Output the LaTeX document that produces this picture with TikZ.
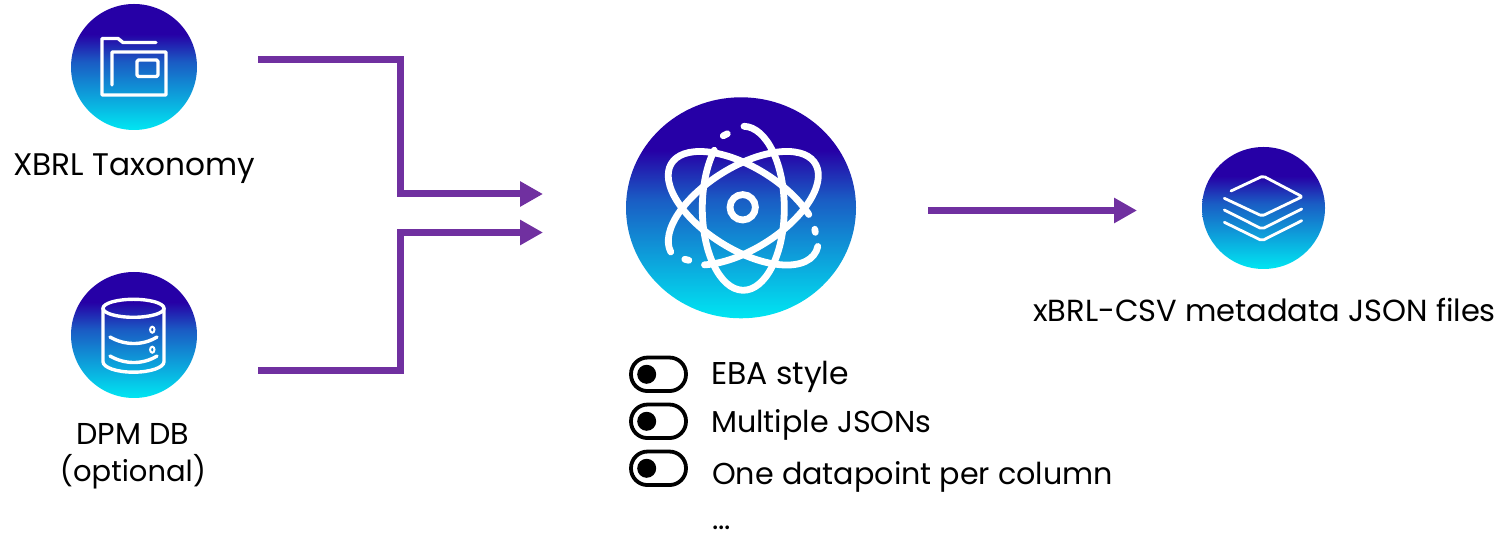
\documentclass[tikz,border=0pt]{standalone}
\usepackage{fontspec}
\setmainfont{Poppins}
\usetikzlibrary{arrows.meta}
\usetikzlibrary{shapes.geometric}
\definecolor{flowpurple}{HTML}{7030A0}
\definecolor{icontop}{HTML}{2600A6}
\definecolor{iconmid}{HTML}{1A5CC4}
\definecolor{iconlow}{HTML}{00E6F2}
\pgfdeclareverticalshading{iconfade}{100bp}{color(0bp)=(iconlow); color(25bp)=(iconlow); color(52bp)=(iconmid); color(63bp)=(icontop); color(100bp)=(icontop)}
\tikzset{
    flowarrow/.style={draw=flowpurple, line width=7pt, -{Triangle[length=23pt,width=24pt]}},
    iconball/.style={ellipse, shading=iconfade, inner sep=0pt},
    iconline/.style={draw=white, line width=3.4pt, line cap=round, line join=round},
    atomline/.style={draw=white, line width=6.8pt, line cap=round},
    label/.style={font=\fontsize{30.2}{36}\selectfont, inner sep=0pt, text=black},
    togglebox/.style={draw=black, line width=3.8pt, rounded corners=16.5pt, minimum width=55pt, minimum height=33.5pt, inner sep=0pt},
    toggleknob/.style={circle, fill=black, minimum size=19pt, inner sep=0pt}
}
\begin{document}
\begin{tikzpicture}[x=1pt,y=1pt]
    \useasboundingbox (0,0) rectangle (1505,535);

    % icons
    \node[iconball, minimum width=126pt, minimum height=126pt] (taxonomy) at (134,468) {};
    \node[iconball, minimum width=126pt, minimum height=126pt] (dpm) at (134,200) {};
    \node[iconball, minimum width=230pt, minimum height=221pt] (engine) at (741,327.2) {};
    \node[iconball, minimum width=123pt, minimum height=122pt] (metadata) at (1263.5,327) {};

    % folder
    \draw[iconline] (112,450) -- (112,483) -- (166,483) -- (166,440) -- (102,440) -- (102,496.5) -- (118,496.5) -- (123,492.5) -- (156,492.5);
    \draw[iconline, rounded corners=1.5pt] (137,475) rectangle (158,458.5);

    % database
    \draw[iconline] (133.5,226.7) ellipse (30.5 and 9);
    \draw[iconline] (103,226.7) -- (103,173.3) arc[start angle=180, end angle=360, x radius=30.5, y radius=10.5] -- (164,226.7);
    \draw[iconline] (110,198) .. controls (125,189.3) and (143,189.3) .. (157,198);
    \draw[iconline] (110,179) .. controls (125,170.3) and (143,170.3) .. (157,179);
    \draw[draw=white, line width=2pt] (152.3,205.3) ellipse (2.2 and 3);
    \draw[draw=white, line width=2pt] (152.3,185.3) ellipse (2.2 and 3);

    % atom
    \draw[atomline] (742.7,327.7) circle (12.7);
    \begin{scope}[shift={(743.3,326.7)}]
        \draw[atomline] (0.7,82) arc[start angle=89, end angle=-225, x radius=41, y radius=82];
        \draw[atomline, rotate=-32] (58.8,29.5) arc[start angle=46, end angle=370, x radius=84.7, y radius=41];
        \draw[atomline, rotate=32] (-62.9,-27.4) arc[start angle=222, end angle=538, x radius=84.7, y radius=41];
        \draw[atomline] (-20,72.5) -- (-16,74.5);
        \draw[atomline] (-58.5,-51) -- (-54.5,-52);
        \draw[atomline] (71.5,-21) -- (72,-24);
    \end{scope}

    % layers
    \draw[iconline, line width=2.8pt, rounded corners=2pt] (1231,344) -- (1263,359) -- (1302.3,338.3) -- (1262,319) -- (1224.3,336.7);
    \draw[iconline, line width=2.8pt, rounded corners=2pt] (1224.3,325) -- (1262,306) -- (1301.7,326);
    \draw[iconline, line width=2.8pt, rounded corners=2pt] (1224.3,312.7) -- (1262,294.3) -- (1301.7,314.3);

    % labels
    \node[label, font=\fontsize{31.2}{36}\selectfont, anchor=base] (taxonomylabel) at (134,359) {XBRL Taxonomy};
    \node[label, anchor=base] (dpmlabel) at (133,90) {DPM DB};
    \node[label, font=\fontsize{29}{36}\selectfont, anchor=base] (optionallabel) at (133,53) {(optional)};
    \node[label, font=\fontsize{30.5}{36}\selectfont, anchor=base west] (metadatalabel) at (1033,213) {xBRL-CSV metadata JSON files};

    % options
    \node[togglebox] (styletoggle) at (658.5,160.7) {};
    \node[toggleknob] (styleknob) at (646.7,160.7) {};
    \node[togglebox] (jsontoggle) at (658.5,113.7) {};
    \node[toggleknob] (jsonknob) at (646.7,113.7) {};
    \node[togglebox] (columntoggle) at (658.5,66.7) {};
    \node[toggleknob] (columnknob) at (646.7,66.7) {};
    \node[label, font=\fontsize{31.5}{36}\selectfont, anchor=base west] (stylelabel) at (711,150) {EBA style};
    \node[label, anchor=base west] (jsonlabel) at (711,102) {Multiple JSONs};
    \node[label, anchor=base west] (columnlabel) at (712,50) {One datapoint per column};
    \node[label, anchor=base west] (morelabel) at (712,5.5) {...};

    % connectors
    \coordinate (taxonomyout) at (258,475);
    \coordinate (dpmout) at (258,164);
    \coordinate (enginetop) at (543,341);
    \coordinate (enginelow) at (543,302.5);
    \coordinate (engineout) at (928,324.5);
    \coordinate (metadatain) at (1137,324.5);
    \draw[flowarrow] (taxonomyout) -| (400,341) -- (enginetop);
    \draw[flowarrow] (dpmout) -| (400,302.5) -- (enginelow);
    \draw[flowarrow] (engineout) -- (metadatain);
\end{tikzpicture}
\end{document}
